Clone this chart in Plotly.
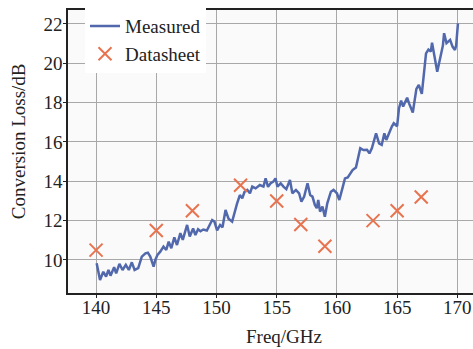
import plotly.graph_objects as go

meas_freq = [140.05, 140.2, 140.33, 140.6, 140.83, 141.03, 141.2, 141.5, 141.67, 141.94,
             142.2, 142.47, 142.72, 142.97, 143.2, 143.5, 143.8, 144.1, 144.3, 144.5,
             144.78, 144.92, 145.1, 145.33, 145.6, 145.83, 146.03, 146.25, 146.5, 146.72,
             147.0, 147.2, 147.56, 147.78, 148.06, 148.25, 148.47, 148.67, 148.9, 149.2,
             149.64, 149.83, 150.05, 150.3, 150.5, 150.75, 151.0, 151.3, 151.5, 151.7,
             151.94, 152.14, 152.33, 152.56, 152.78, 152.97, 153.25, 153.6, 153.9, 154.08,
             154.28, 154.5, 154.72, 154.9, 155.06, 155.33, 155.56, 155.8, 156.1, 156.3,
             156.6, 156.86, 157.05, 157.28, 157.56, 157.78, 157.97, 158.17, 158.33, 158.45,
             158.6, 158.8, 159.0, 159.2, 159.5, 159.72, 160.0, 160.2, 160.47, 160.67,
             160.9, 161.1, 161.3, 161.58, 161.94, 162.2, 162.5, 162.7, 162.9, 163.25,
             163.5, 163.72, 163.94, 164.1, 164.4, 164.56, 164.72, 165.0, 165.15, 165.33,
             165.5, 165.83, 166.0, 166.3, 166.6, 166.8, 167.05, 167.4, 167.6, 167.8,
             167.9, 168.1, 168.33, 168.6, 168.8, 168.9, 169.1, 169.4, 169.6, 169.8,
             169.9, 170.05]
meas_loss = [9.83, 9.3, 8.98, 9.4, 9.15, 9.49, 9.2, 9.63, 9.32, 9.8,
             9.49, 9.75, 9.49, 9.88, 9.49, 9.58, 10.17, 10.34, 10.37, 10.17,
             9.66, 10.0, 10.26, 10.42, 10.68, 10.51, 10.93, 10.6, 11.15, 10.76,
             11.36, 11.02, 11.78, 11.19, 11.6, 11.27, 11.56, 11.46, 11.55, 11.5,
             12.03, 11.95, 11.5, 11.78, 11.66, 12.54, 12.1, 11.95, 12.46, 12.85,
             13.3, 13.14, 13.47, 13.56, 13.39, 13.73, 13.64, 13.81, 13.73, 14.15,
             13.72, 13.9, 13.98, 14.15, 13.73, 13.9, 13.73, 13.6, 14.07, 13.39,
             13.56, 13.39, 12.97, 13.22, 13.9, 13.3, 13.22, 12.8, 12.63, 13.05,
             12.46, 12.71, 12.2, 12.88, 13.47, 13.56, 13.39, 13.05, 13.68, 14.15,
             14.2, 14.4, 14.57, 14.7, 15.68, 15.59, 15.6, 15.42, 15.68, 16.44,
             15.93, 15.85, 16.44, 16.1, 16.6, 16.78, 16.95, 16.8, 17.7, 18.1,
             17.8, 18.25, 17.95, 17.5, 18.7, 18.9, 18.45, 20.5, 20.7, 20.6,
             21.05, 20.4, 19.57, 20.33, 20.9, 21.53, 21.02, 21.19, 20.85, 20.68,
             20.9, 22.03]

ds_freq = [140, 145, 148, 152, 155, 157, 159, 163, 165, 167]
ds_loss = [10.5, 11.5, 12.5, 13.8, 13.0, 11.8, 10.7, 12.0, 12.5, 13.2]

x_ticks = [140, 145, 150, 155, 160, 165, 170]
y_ticks = [10, 12, 14, 16, 18, 20, 22]

FONT = "Liberation Serif, Times New Roman, serif"

fig = go.Figure()
fig.add_trace(go.Scatter(x=meas_freq, y=meas_loss, mode="lines", name="Measured",
                         line=dict(color="#5268ad", width=2.5)))
fig.add_trace(go.Scatter(x=ds_freq, y=ds_loss, mode="markers", name="Datasheet",
                         marker=dict(symbol="x-thin", size=13, color="#e8734f",
                                     line=dict(color="#e8734f", width=2))))

fig.update_layout(
    width=473, height=349,
    margin=dict(l=68, r=0, t=10, b=56),
    paper_bgcolor="#ffffff", plot_bgcolor="#fafafa",
    font=dict(family=FONT, size=19, color="#222222"),
    showlegend=True,
    legend=dict(x=0.042, y=1.01, xanchor="left", yanchor="top",
                bgcolor="#ffffff", borderwidth=0, font=dict(size=19),
                tracegroupgap=0, itemwidth=30),
    xaxis=dict(range=[137.67, 171.3], tickvals=x_ticks, ticks="outside", ticklen=3,
               tickcolor="#222", showline=True, linecolor="#222", linewidth=1.5,
               mirror=True, showgrid=True, gridcolor="#a8a8a8", gridwidth=1.3,
               zeroline=False, ticklabelstandoff=-7),
    yaxis=dict(range=[8.32, 22.71], tickvals=y_ticks, ticks="outside", ticklen=3,
               tickcolor="#222", showline=True, linecolor="#222", linewidth=1.5,
               showgrid=True, gridcolor="#a8a8a8", gridwidth=1.3, zeroline=False,
               ticklabelstandoff=-3),
    annotations=[
        dict(text="Freq/GHz", xref="paper", yref="paper", x=0.533, y=-0.155,
             xanchor="center", yanchor="middle", showarrow=False,
             font=dict(family=FONT, size=19, color="#222222")),
        dict(text="Conversion Loss/dB", xref="paper", yref="paper", x=-0.123, y=0.537,
             xanchor="center", yanchor="middle", showarrow=False, textangle=-90,
             font=dict(family=FONT, size=19, color="#222222")),
    ],
)

fig.write_html("out.html")
